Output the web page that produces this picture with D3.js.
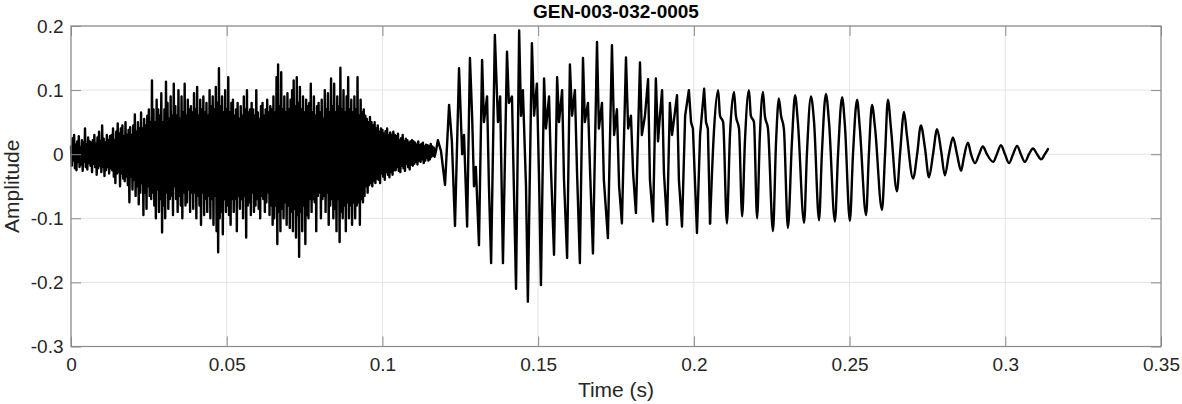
<!DOCTYPE html>
<html>
<head>
<meta charset="utf-8">
<script src="https://cdn.jsdelivr.net/npm/d3@7"></script>
<style>
  html, body { margin: 0; padding: 0; background: #fff; }
  svg { display: block; font-family: "Liberation Sans", Arial, sans-serif; }
</style>
</head>
<body>
<svg id="chart" width="1182" height="404"></svg>
<script>
// ---- data ----
const chartTitle = "GEN-003-032-0005";
const xLabel = "Time (s)";
const yLabel = "Amplitude";

// noisy onset: amplitudes at a fixed sample interval (seconds)
const noiseStep = 0.00025;
const noiseAmp = [
  0.012, -0.018, 0.025, -0.01, 0.03, -0.022, 0.015, -0.025, 0.02, -0.012, 0.028, -0.02, 0.01, -0.016, 0.022, -0.026, 0.018, -0.012, 0.04, -0.02, 0.015, -0.024, 0.026, -0.014, 0.02, -0.018,
  0.018, -0.028, 0.022, -0.015, 0.03, -0.02, 0.016, -0.032, 0.026, -0.022, 0.035, -0.018, 0.02, -0.028, 0.045, -0.02, 0.024, -0.034, 0.018, -0.025, 0.03, -0.02, 0.022, -0.03, 0.028, -0.022,
  0.03, -0.025, 0.04, -0.035, 0.022, -0.045, 0.035, -0.03, 0.048, -0.028, 0.032, -0.05, 0.04, -0.03, 0.045, -0.038, 0.028, -0.042, 0.05, -0.035, 0.03, -0.048, 0.038, -0.075, 0.042, -0.035,
  0.03, -0.055, 0.045, -0.04, 0.062, -0.065, 0.035, -0.05, 0.05, -0.078, 0.04, -0.06, 0.065, -0.045, 0.04, -0.095, 0.055, -0.06, 0.045, -0.085, 0.06, -0.05, 0.07, -0.065, 0.05, -0.07,
  0.115, -0.06, 0.07, -0.08, 0.05, -0.1, 0.085, -0.055, 0.07, -0.09, 0.06, -0.07, 0.095, -0.122, 0.05, -0.08, 0.07, -0.1, 0.113, -0.06, 0.08, -0.085, 0.055, -0.07, 0.09, -0.065,
  0.06, -0.095, 0.11, -0.05, 0.075, -0.07, 0.06, -0.09, 0.1, -0.065, 0.055, -0.08, 0.09, -0.1, 0.065, -0.06, 0.11, -0.08, 0.06, -0.075, 0.085, -0.055, 0.07, -0.09, 0.075, -0.06,
  0.065, -0.085, 0.095, -0.06, 0.07, -0.1, 0.105, -0.065, 0.06, -0.08, 0.085, -0.11, 0.07, -0.06, 0.09, -0.095, 0.065, -0.07, 0.08, -0.09, 0.06, -0.065, 0.1, -0.1, 0.075, -0.07,
  0.09, -0.11, 0.07, -0.065, 0.105, -0.12, 0.08, -0.153, 0.134, -0.1, 0.075, -0.09, 0.09, -0.125, 0.065, -0.07, 0.1, -0.09, 0.07, -0.08, 0.12, -0.095, 0.065, -0.11, 0.08, -0.07,
  0.085, -0.09, 0.06, -0.07, 0.07, -0.12, 0.08, -0.065, 0.055, -0.085, 0.075, -0.07, 0.06, -0.1, 0.09, -0.065, 0.07, -0.13, 0.1, -0.08, 0.065, -0.075, 0.07, -0.095, 0.08, -0.06,
  0.07, -0.09, 0.06, -0.08, 0.1, -0.07, 0.065, -0.085, 0.055, -0.1, 0.075, -0.065, 0.08, -0.07, 0.06, -0.09, 0.07, -0.075, 0.085, -0.06, 0.065, -0.095, 0.075, -0.08, 0.07, -0.11,
  0.09, -0.1, 0.065, -0.08, 0.12, -0.14, 0.14, -0.09, 0.075, -0.12, 0.128, -0.085, 0.07, -0.1, 0.09, -0.075, 0.065, -0.11, 0.095, -0.08, 0.07, -0.115, 0.085, -0.09, 0.1, -0.12,
  0.115, -0.085, 0.075, -0.13, 0.12, -0.095, 0.08, -0.16, 0.105, -0.09, 0.07, -0.12, 0.09, -0.08, 0.065, -0.14, 0.085, -0.095, 0.075, -0.1, 0.08, -0.07, 0.11, -0.09, 0.065, -0.07,
  0.09, -0.075, 0.06, -0.12, 0.075, -0.065, 0.08, -0.06, 0.065, -0.1, 0.085, -0.07, 0.055, -0.065, 0.1, -0.09, 0.07, -0.06, 0.095, -0.11, 0.065, -0.08, 0.118, -0.07, 0.075, -0.1,
  0.11, -0.085, 0.065, -0.12, 0.09, -0.07, 0.075, -0.137, 0.135, -0.09, 0.07, -0.1, 0.1, -0.08, 0.065, -0.12, 0.09, -0.075, 0.12, -0.1, 0.07, -0.08, 0.085, -0.11, 0.065, -0.075,
  0.09, -0.1, 0.07, -0.08, 0.12, -0.075, 0.06, -0.11, 0.085, -0.07, 0.065, -0.075, 0.07, -0.065, 0.06, -0.05, 0.055, -0.06, 0.05, -0.048, 0.058, -0.045, 0.05, -0.05, 0.045, -0.042,
  0.05, -0.045, 0.04, -0.038, 0.045, -0.04, 0.035, -0.045, 0.04, -0.03, 0.038, -0.035, 0.032, -0.04, 0.036, -0.028, 0.04, -0.032, 0.03, -0.036, 0.034, -0.028, 0.03, -0.032, 0.035, -0.025,
  0.03, -0.025, 0.028, -0.02, 0.032, -0.026, 0.022, -0.028, 0.025, -0.018, 0.03, -0.022, 0.02, -0.026, 0.024, -0.015, 0.022, -0.02, 0.018, -0.024, 0.02, -0.016, 0.022, -0.018, 0.02, -0.015,
  0.018, -0.012, 0.015, -0.016, 0.02, -0.01, 0.014, -0.012, 0.016, -0.008, 0.018, -0.014, 0.012, -0.01, 0.015, -0.006, 0.014, -0.01, 0.012, -0.008, 0.016, -0.004, 0.012, -0.002, 0.01, -0.004
];

// voiced part: turning points (time in ms, amplitude)
const burstTimeMs = [
  117.2, 117.8, 118.8, 120.1, 121.4, 122.3, 123.3, 124.6, 125.6, 126.2,
  127.2, 128.1, 128.8, 129.4, 130.0, 131.0, 132.0, 132.6, 133.6, 134.2,
  134.9, 136.1, 137.1, 137.8, 138.7, 140.0, 140.6, 141.6, 142.2, 142.9,
  143.9, 144.5, 145.1, 146.1, 146.7, 148.0, 148.7, 149.6, 150.3, 150.9,
  151.9, 152.5, 153.5, 154.1, 155.1, 156.1, 156.7, 157.7, 158.3, 159.3,
  160.2, 160.9, 161.8, 162.5, 163.4, 164.4, 165.0, 166.0, 166.7, 167.6,
  168.9, 169.5, 170.5, 171.1, 172.4, 173.7, 174.4, 175.3, 176.0, 176.9,
  178.2, 178.9, 179.8, 180.5, 181.4, 182.7, 183.3, 184.3, 185.3, 185.9,
  186.9, 187.8, 188.5, 189.1, 189.8, 190.4, 191.4, 192.3, 193.0, 194.6,
  195.2, 196.2, 197.2, 198.4, 199.1, 199.7, 201.0, 202.0, 203.3, 203.9,
  204.5, 205.2, 206.5, 207.8, 208.4, 209.4, 210.6, 211.6, 212.9, 213.5,
  214.5, 215.5, 216.4, 217.7, 218.3, 219.3, 220.3, 221.2, 222.2, 222.8,
  223.8, 225.4, 226.4, 227.3, 228.0, 228.9, 230.2, 231.5, 232.5, 233.4,
  235.4, 236.3, 237.6, 238.6, 240.2, 241.1, 242.4, 243.4, 245.3, 246.3,
  247.6, 248.5, 250.1, 251.1, 252.4, 253.3, 255.3, 256.2, 257.2, 258.2,
  260.4, 261.4, 262.3, 263.3, 265.2, 266.2, 267.5, 268.4, 270.4, 271.7,
  272.9, 274.2, 275.5, 276.8, 278.1, 279.4, 280.6, 281.9, 283.2, 284.5,
  285.8, 286.7, 288.0, 289.0, 290.3, 291.6, 292.8, 294.1, 296.1, 297.3,
  298.6, 299.9, 301.2, 302.5, 303.8, 305.0, 306.3, 307.6, 308.9, 310.2,
  311.5, 312.7, 313.7
];
const burstAmp = [
  0.005, 0.022, 0.005, -0.048, 0.077, 0.02, -0.112, 0.134, 0.0, 0.03,
  -0.113, 0.15, 0.06, -0.05, -0.02, -0.142, 0.147, 0.05, 0.09, -0.05,
  -0.17, 0.186, 0.05, 0.09, -0.17, 0.16, 0.08, 0.09, -0.05, -0.21,
  0.193, 0.06, 0.1, -0.05, -0.23, 0.173, 0.06, 0.11, -0.04, -0.204,
  0.118, 0.04, 0.09, -0.02, -0.157, 0.12, 0.05, 0.1, -0.04, -0.162,
  0.14, 0.06, 0.1, -0.03, -0.17, 0.15, 0.05, 0.08, -0.03, -0.155,
  0.175, 0.04, 0.08, -0.04, -0.131, 0.17, 0.03, 0.07, -0.05, -0.108,
  0.151, 0.04, 0.06, -0.03, -0.092, 0.143, 0.03, 0.06, 0.117, -0.04,
  -0.105, 0.118, 0.02, 0.06, 0.1, -0.03, -0.11, 0.08, 0.03, 0.092,
  -0.04, -0.113, 0.06, 0.1, 0.05, 0.04, -0.123, 0.03, 0.102, 0.05,
  0.04, -0.108, 0.04, 0.1, 0.06, 0.05, -0.108, 0.03, 0.097, 0.06,
  0.04, -0.097, 0.02, 0.1, 0.06, 0.05, -0.1, 0.03, 0.097, 0.06,
  0.04, -0.12, 0.02, 0.087, 0.06, 0.04, -0.115, 0.02, 0.092, 0.05,
  -0.107, 0.0, 0.09, 0.05, -0.103, 0.0, 0.094, 0.05, -0.105, 0.0,
  0.089, 0.045, -0.104, 0.0, 0.085, 0.04, -0.095, 0.0, 0.077, 0.04,
  -0.087, 0.0, 0.085, 0.04, -0.058, 0.0, 0.066, 0.03, -0.038, 0.0,
  0.045, 0.01, -0.036, 0.0, 0.039, 0.005, -0.033, 0.0, 0.026, 0.0,
  -0.026, -0.005, 0.018, 0.0, -0.014, 0.0, 0.012, 0.0, -0.012, 0.0,
  0.014, 0.0, -0.014, 0.0, 0.013, 0.0, -0.012, 0.0, 0.009, 0.0,
  -0.008, 0.0, 0.008
];
// up to this time the voiced part is drawn with straight segments, then smoothly
const smoothFromMs = 205.2;

const xTicks = [0, 0.05, 0.1, 0.15, 0.2, 0.25, 0.3, 0.35];
const xTickLabels = ["0", "0.05", "0.1", "0.15", "0.2", "0.25", "0.3", "0.35"];
const yTicks = [-0.3, -0.2, -0.1, 0, 0.1, 0.2];
const yTickLabels = ["-0.3", "-0.2", "-0.1", "0", "0.1", "0.2"];

// ---- layout ----
const W = 1182, H = 404;
const plot = { left: 71, right: 1161, top: 26, bottom: 346.5 };
const axisColor = "#8a8a8a";
const gridColor = "#e4e4e4";
const textColor = "#262626";
const tickFont = 19;

const svg = d3.select("#chart");
const x = d3.scaleLinear().domain([0, 0.35]).range([plot.left, plot.right]);
const y = d3.scaleLinear().domain([-0.3, 0.2]).range([plot.bottom, plot.top]);

// grid
const grid = svg.append("g");
grid.selectAll("line.gx").data(xTicks).join("line")
  .attr("x1", d => x(d)).attr("x2", d => x(d))
  .attr("y1", plot.top).attr("y2", plot.bottom)
  .attr("stroke", gridColor).attr("stroke-width", 1);
grid.selectAll("line.gy").data(yTicks).join("line")
  .attr("x1", plot.left).attr("x2", plot.right)
  .attr("y1", d => y(d)).attr("y2", d => y(d))
  .attr("stroke", gridColor).attr("stroke-width", 1);

// waveform
const noisePts = noiseAmp.map((v, i) => [i * noiseStep, v]);
const burstPts = burstTimeMs.map((t, i) => [t / 1000, burstAmp[i]]);
const burstSharp = burstPts.filter(d => d[0] <= smoothFromMs / 1000);
const burstSmooth = burstPts.filter(d => d[0] >= smoothFromMs / 1000);

const lineLin = d3.line().x(d => x(d[0])).y(d => y(d[1]));
const lineSmooth = d3.line().x(d => x(d[0])).y(d => y(d[1])).curve(d3.curveMonotoneX);

const wave = svg.append("g")
  .attr("fill", "none").attr("stroke", "#000")
  .attr("stroke-width", 2.4).attr("stroke-linejoin", "round").attr("stroke-linecap", "round");
wave.append("path").attr("d", lineLin(noisePts.concat(burstSharp)));
wave.append("path").attr("d", lineSmooth(burstSmooth));

// axes
const tickLen = 10;
const fmtX = (d, i) => xTickLabels[i];
const fmtY = (d, i) => yTickLabels[i];

function styleAxis(g) {
  g.select(".domain").remove();
  g.selectAll(".tick line").attr("stroke", axisColor);
  g.selectAll(".tick text").attr("fill", textColor).attr("font-size", tickFont)
    .attr("font-family", "'Liberation Sans', Arial, sans-serif");
}

svg.append("g").attr("transform", `translate(0,${plot.bottom})`)
  .call(d3.axisBottom(x).tickValues(xTicks).tickFormat(fmtX).tickSizeInner(-tickLen).tickSizeOuter(0).tickPadding(11.5))
  .call(styleAxis);
svg.append("g").attr("transform", `translate(0,${plot.top})`)
  .call(d3.axisTop(x).tickValues(xTicks).tickFormat("").tickSizeInner(-tickLen).tickSizeOuter(0))
  .call(styleAxis);
svg.append("g").attr("transform", `translate(${plot.left},0)`)
  .call(d3.axisLeft(y).tickValues(yTicks).tickFormat(fmtY).tickSizeInner(-tickLen).tickSizeOuter(0).tickPadding(7.5))
  .call(styleAxis);
svg.append("g").attr("transform", `translate(${plot.right},0)`)
  .call(d3.axisRight(y).tickValues(yTicks).tickFormat("").tickSizeInner(-tickLen).tickSizeOuter(0))
  .call(styleAxis);

// box
svg.append("rect")
  .attr("x", plot.left).attr("y", plot.top)
  .attr("width", plot.right - plot.left).attr("height", plot.bottom - plot.top)
  .attr("fill", "none").attr("stroke", axisColor).attr("stroke-width", 1.2);

// labels
svg.append("text").attr("x", (plot.left + plot.right) / 2).attr("y", 17.5)
  .attr("text-anchor", "middle").attr("font-size", 19).attr("font-weight", "bold")
  .attr("fill", "#000").text(chartTitle);
svg.append("text").attr("x", (plot.left + plot.right) / 2).attr("y", 397)
  .attr("text-anchor", "middle").attr("font-size", 21).attr("fill", textColor).text(xLabel);
svg.append("text")
  .attr("transform", `translate(19,${(plot.top + plot.bottom) / 2}) rotate(-90)`)
  .attr("text-anchor", "middle").attr("font-size", 21).attr("fill", textColor).text(yLabel);
</script>
</body>
</html>
